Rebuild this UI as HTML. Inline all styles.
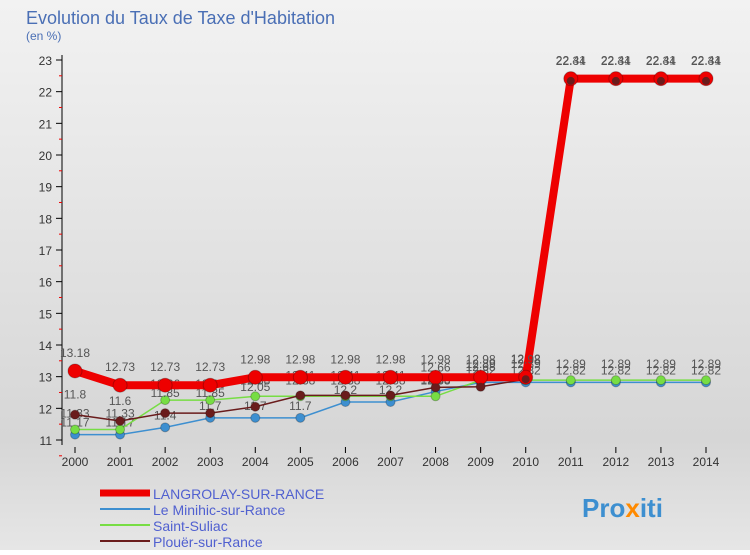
<!DOCTYPE html>
<html><head><meta charset="utf-8"><style>
body{margin:0;width:750px;height:550px;overflow:hidden;font-family:"Liberation Sans",sans-serif}
#wrap{position:relative;width:750px;height:550px;background:linear-gradient(#f2f2f2,#d6d6d6 80%,#e6e6e6)}
</style></head><body>
<div id="wrap">
<svg id="c" width="750" height="550" xmlns="http://www.w3.org/2000/svg"></svg>
</div>
<script>
const years=[2000,2001,2002,2003,2004,2005,2006,2007,2008,2009,2010,2011,2012,2013,2014];
const yTicks=[11,12,13,14,15,16,17,18,19,20,21,22,23];
const langrolay=[13.18,12.73,12.73,12.73,12.98,12.98,12.98,12.98,12.98,12.98,12.98,22.41,22.41,22.41,22.41];
const minihic=[11.17,11.17,11.4,11.7,11.7,11.7,12.2,12.2,12.53,12.82,12.82,12.82,12.82,12.82,12.82];
const suliac=[11.33,11.33,12.26,12.26,12.38,12.38,12.38,12.38,12.38,12.89,12.89,12.89,12.89,12.89,12.89];
const plouer=[11.8,11.6,11.85,11.85,12.05,12.41,12.41,12.41,12.66,12.68,12.92,22.34,22.34,22.34,22.34];
const names=["LANGROLAY-SUR-RANCE","Le Minihic-sur-Rance","Saint-Suliac","Plouër-sur-Rance"];
const NS="http://www.w3.org/2000/svg";
const svg=document.getElementById('c');
const X=i=>75+i*(706-75)/(years.length-1);
const Y=v=>440-(v-11)*(380/12);
function mk(t,a,p){const e=document.createElementNS(NS,t);for(const k in a)e.setAttribute(k,a[k]);(p||svg).appendChild(e);return e;}
function txt(x,y,s,a){const e=mk('text',Object.assign({x:x,y:y,'font-family':'Liberation Sans, sans-serif'},a));e.textContent=s;return e;}
const t1=txt(26,24,"Evolution du Taux de Taxe d'Habitation",{'font-size':18,fill:'#4a6fb5'});

const t2=txt(26,40,"(en %)",{'font-size':12,fill:'#4a6fb5'});

const ax=mk('line',{x1:62,y1:55,x2:62,y2:445,stroke:'#000','stroke-width':1});

yTicks.forEach(v=>{
 const y=Y(v);
 mk('line',{x1:56,y1:y,x2:62,y2:y,stroke:'#000'});
 mk('line',{x1:59,y1:y+15.8,x2:62,y2:y+15.8,stroke:'#e00'});
 const l=txt(52,y+5,String(v),{'font-size':12,fill:'#333','text-anchor':'end'});
 
});
years.forEach((yr,i)=>{
 mk('line',{x1:X(i),y1:447,x2:X(i),y2:453,stroke:'#000'});
 const l=txt(X(i),466,String(yr),{'font-size':12,fill:'#333','text-anchor':'middle'});
 
});
function series(data,color,w,r,name,labelOff){
 const g=mk('g',{});
 
 mk('polyline',{points:data.map((v,i)=>X(i)+','+Y(v)).join(' '),fill:'none',stroke:color,'stroke-width':w},g);
 data.forEach((v,i)=>{
  const c=mk('circle',{cx:X(i),cy:Y(v),r:r,fill:color,stroke:'rgba(0,0,0,0.25)'},g);
  
  const l=txt(X(i),Y(v)+labelOff,'',{'font-size':12,fill:'#555','text-anchor':'middle'},g);
  l.textContent=v.toFixed(2).replace(/0$/,'').replace(/\.0$/,'');
  
 });
}
series(minihic,'#3d8fd0',1.5,4.5,'minihic-series',-8);
series(suliac,'#77dd44',1.5,4.5,'suliac-series',-12);
series(plouer,'#6a1c1c',1.5,4.5,'plouer-series',-16);
series(langrolay,'#ee0000',8,7,'langrolay-series',-14);
plouer.forEach((v,i)=>{const c=mk('circle',{cx:X(i),cy:Y(v),r:4,fill:'#6a1c1c'});});
const cols=['#ee0000','#3d8fd0','#77dd44','#6a1c1c'];const ws=[7,2,2,2];
names.forEach((n,i)=>{
 const y=493+i*16;
 const g=mk('g',{});
 mk('line',{x1:100,y1:y,x2:150,y2:y,stroke:cols[i],'stroke-width':ws[i]},g);
 txt(153,y+6,n,{'font-size':14,fill:'#5060d0'},g);
});
const lg=txt(582,517,"",{'font-size':26,'font-weight':'bold'});

[['Pro','#3d8fd0'],['x','#ff8a00'],['iti','#3d8fd0']].forEach(p=>{const s=mk('tspan',{fill:p[1]},lg);s.textContent=p[0];});
</script>
</body></html>
